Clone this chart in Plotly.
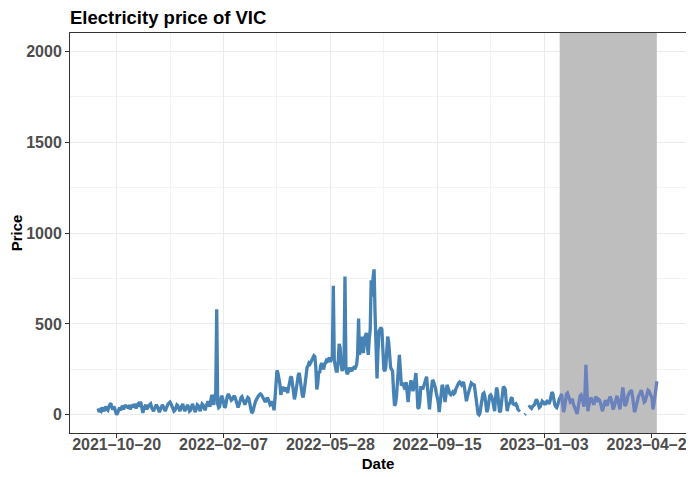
import plotly.graph_objects as go
import pandas as pd
import numpy as np

nan = None
start_date = "2021-10-01"
price = [
    35, 15, 25, 20, 40, 30, 20, 35, 45, 30,
    25, 45, 60, 65, 40, 30, 45, 35, 15, 0,
    10, 30, 40, 25, 45, 50, 30, 45, 55, 40,
    50, 35, 55, 30, 45, 55, 40, 60, 50, 35,
    55, 60, 45, 70, 65, 20, 10, 35, 50, 55,
    30, 45, 50, 55, 60, 40, 25, 20, 35, 50,
    55, 45, 25, 15, 30, 50, 55, 45, 30, 20,
    35, 50, 60, 65, 70, 60, 45, 30, 20, 25,
    40, 55, 50, 30, 20, 35, 55, 60, 40, 20,
    30, 45, 55, 40, 20, 25, 50, 60, 45, 20,
    15, 35, 55, 50, 30, 20, 40, 60, 55, 35,
    25, 45, 60, 75, 60, 45, 80, 110, 70, 55,
    100, 120, 580, 60, 40, 45, 80, 105, 95, 60,
    40, 45, 80, 105, 115, 100, 85, 80, 85, 100,
    105, 95, 70, 50, 40, 55, 80, 95, 100, 80,
    60, 55, 70, 90, 95, 90, 60, 30, 10, 15,
    40, 60, 75, 85, 100, 105, 110, 115, 110, 100,
    90, 80, 70, 80, 95, 85, 65, 55, 60, 75,
    50, 25, 90, 200, 245, 230, 200, 170, 110, 140,
    155, 130, 140, 150, 135, 120, 150, 190, 205, 210,
    170, 120, 85, 110, 150, 200, 220, 230, 200, 150,
    110, 95, 130, 190, 240, 260, 270, 285, 280, 290,
    300, 315, 325, 320, 260, 140, 170, 240, 230, 270,
    285, 270, 250, 275, 290, 300, 295, 310, 315, 290,
    310, 310, 710, 300, 250, 240, 240, 290, 390, 370,
    290, 240, 260, 270, 760, 250, 230, 230, 260, 245,
    250, 240, 255, 260, 250, 265, 275, 330, 530, 330,
    380, 430, 360, 340, 420, 440, 450, 380, 330, 420,
    470, 740, 650, 760, 800, 550, 300, 200, 350, 460,
    470, 480, 470, 300, 250, 240, 260, 350, 430, 400,
    320, 260, 250, 240, 130, 50, 60, 100, 180, 280,
    330, 250, 160, 170, 175, 150, 140, 180, 120, 70,
    130, 170, 190, 150, 130, 150, 180, 230, 150, 40,
    35, 70, 150, 150, 140, 160, 175, 200, 210, 150,
    70, 30, 90, 150, 190, 185, 170, 150, 120, 100,
    70, 15, 60, 130, 165, 150, 110, 70, 110, 165,
    150, 130, 115, 110, 120, 125, 115, 120, 140, 155,
    170, 175, 180, 170, 165, 175, 180, 150, 110, 75,
    100, 120, 150, 170, 175, 170, 165, 170, 130, 70,
    20, 5, 0, 10, 50, 100, 115, 120, 100, 60,
    15, 30, 80, 105, 110, 100, 80, 30, 20, 90,
    150, 130, 80, 20, 15, 70, 130, 155, 150, 140,
    70, 20, 50, 60, 70, 90, 95, 60, 55, 55,
    60, 50, 30, 25, 30, nan, nan, nan, nan, 0,
    5, nan, nan, 40, 45, 40, 35, 45, 50, 55,
    70, 85, 75, 50, 40, 45, 70, 75, 70, 65,
    55, 70, 75, 70, 60, 75, 110, 125, 115, 80,
    55, 45, 40, 55, 80, 95, 100, 115, 60, 15,
    40, 90, 115, 120, 105, 90, 70, 75, 90, 60,
    45, 35, 20, 5, 40, 85, 105, 110, 95, 70,
    45, 120, 275, 130, 20, 50, 80, 95, 85, 75,
    55, 70, 100, 90, 80, 85, 80, 65, 40, 20,
    40, 70, 80, 60, 50, 75, 95, 100, 85, 50,
    30, 45, 70, 100, 105, 80, 45, 30, 70, 120,
    150, 110, 50, 55, 70, 100, 115, 125, 130, 135,
    100, 60, 15, 30, 60, 90, 100, 110, 125, 135,
    115, 90, 70, 75, 100, 120, 135, 130, 120, 105,
    90, 30, 60, 110, 165, 185,
]
test_start = "2023-01-19"
test_end = "2023-04-29"

x_range = ["2021-09-02", "2023-05-29"]
y_range = [-100, 2100]
x_ticks = ["2021-10-20", "2022-02-07", "2022-05-28", "2022-09-15", "2023-01-03", "2023-04-23"]
x_tick_labels = ["2021\u201310\u201320", "2022\u201302\u201307", "2022\u201305\u201328",
                 "2022\u201309\u201315", "2023\u201301\u201303", "2023\u201304\u201323"]
x_minor = ["2021-12-14", "2022-04-03", "2022-07-22", "2022-11-09", "2023-02-27"]
y_ticks = [0, 500, 1000, 1500, 2000]
y_minor = [250, 750, 1250, 1750]

dates = pd.date_range(start_date, periods=len(price), freq="D")
s = pd.Series([np.nan if v is None else v for v in price], index=dates, dtype=float)
train = s[:test_start]
test = s[test_start:]

FONT = "Liberation Sans, Arial, sans-serif"
# the page body adds an 8px margin, so the figure is sized to the window minus it
W, H = 686, 469

fig = go.Figure()
# shaded test period (drawn as a trace so it sits above the grid)
fig.add_trace(go.Scatter(
    x=[test_start, test_end, test_end, test_start, test_start],
    y=[y_range[0], y_range[0], y_range[1], y_range[1], y_range[0]],
    mode="lines", fill="toself", fillcolor="#bebebe", line=dict(width=0),
    showlegend=False, hoverinfo="skip"))
fig.add_trace(go.Scatter(x=train.index, y=train.values, mode="lines",
                         line=dict(color="#4682b4", width=3.3), connectgaps=False,
                         showlegend=False, hoverinfo="skip"))
fig.add_trace(go.Scatter(x=test.index, y=test.values, mode="lines",
                         line=dict(color="#6b82bd", width=3.3), connectgaps=False,
                         showlegend=False, hoverinfo="skip"))

axis_common = dict(
    showgrid=True, gridcolor="#ebebeb", gridwidth=1.1,
    showline=True, mirror=True, linecolor="#333333", linewidth=1,
    ticks="outside", ticklen=4, tickcolor="#333333", tickwidth=1,
    tickfont=dict(family=FONT, size=16, color="#4d4d4d", weight="bold"),
    zeroline=False, automargin=False, ticklabeloverflow="allow",
)

fig.update_layout(
    width=W, height=H,
    margin=dict(l=62, r=8, t=25, b=44, autoexpand=False),
    paper_bgcolor="white", plot_bgcolor="white",
    title=dict(text="<b>Electricity price of VIC</b>", x=62/W, xref="container",
               xanchor="left", y=1 - 10/H, yref="container", yanchor="middle",
               font=dict(family=FONT, size=18.5, color="black")),
    xaxis=dict(
        range=x_range, type="date",
        tickmode="array", tickvals=x_ticks, ticktext=x_tick_labels,
        ticklabelstandoff=-7,
        minor=dict(tickmode="array", tickvals=x_minor, showgrid=True,
                   gridcolor="#f3f3f3", gridwidth=0.6, ticks=""),
        title=dict(text="<b>Date</b>", font=dict(family=FONT, size=15, color="black"),
                   standoff=6),
        **axis_common,
    ),
    yaxis=dict(
        range=y_range,
        tickmode="array", tickvals=y_ticks, ticktext=[str(v) for v in y_ticks],
        minor=dict(tickmode="array", tickvals=y_minor, showgrid=True,
                   gridcolor="#f3f3f3", gridwidth=0.6, ticks=""),
        title=dict(text="<b>Price</b>", font=dict(family=FONT, size=15, color="black"),
                   standoff=2),
        **axis_common,
    ),
)

fig.write_html("out.html")
